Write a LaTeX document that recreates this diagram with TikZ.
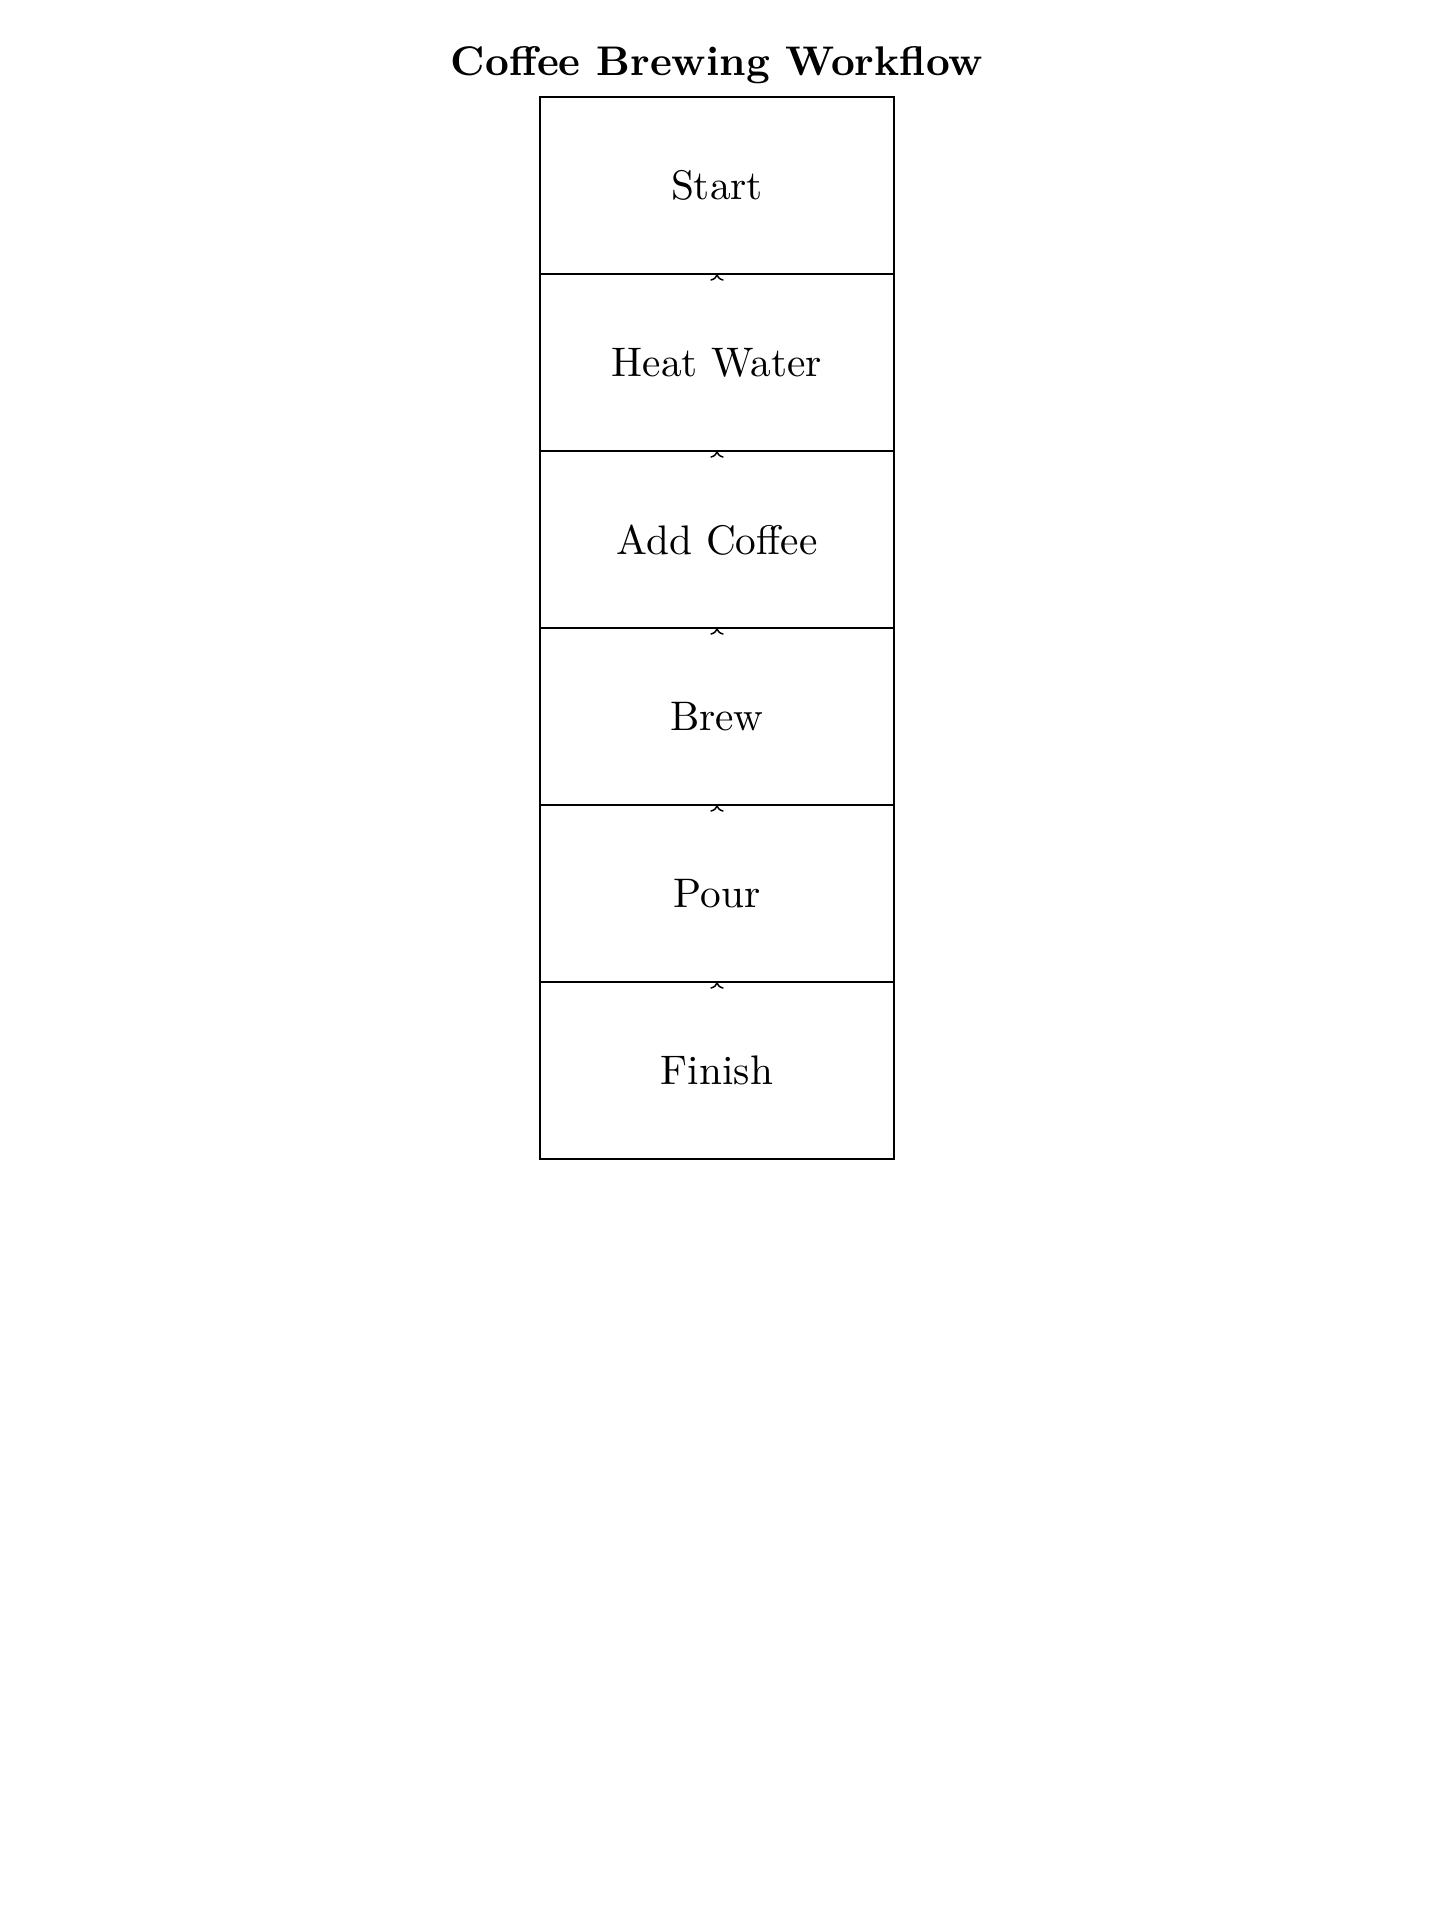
\documentclass[tikz,border=0pt]{standalone}
\usepackage{fontspec}
\setmainfont{lmroman10-regular.otf}[BoldFont=lmroman10-bold.otf]
\usetikzlibrary{arrows.meta}
\tikzset{
  stepbox/.style={draw, thick, minimum width=5cm, minimum height=2.5cm, inner sep=0pt, outer sep=0pt, font=\fontsize{16.6}{20}\selectfont},
  titletext/.style={font=\fontsize{16.65}{20}\selectfont\bfseries, anchor=base, inner sep=0pt},
  flowarrow/.style={line width=0.6pt, -{To[length=2.6pt,width=5.4pt]}}
}
\begin{document}
\begin{tikzpicture}
\useasboundingbox (0,0) rectangle (20.254,-26.935);
\node[titletext] (title) at (10.127,-1.06) {Coffee Brewing Workflow};
\node[stepbox] (start) at (10.127,-2.624) {Start};
\node[stepbox] (heat) at (10.127,-5.124) {Heat Water};
\node[stepbox] (add) at (10.127,-7.624) {Add Coffee};
\node[stepbox] (brew) at (10.127,-10.124) {Brew};
\node[stepbox] (pour) at (10.127,-12.624) {Pour};
\node[stepbox] (finish) at (10.127,-15.124) {Finish};
\draw[flowarrow] ([yshift=-0.1pt]heat.north) -- (start.south);
\draw[flowarrow] ([yshift=-0.1pt]add.north) -- (heat.south);
\draw[flowarrow] ([yshift=-0.1pt]brew.north) -- (add.south);
\draw[flowarrow] ([yshift=-0.1pt]pour.north) -- (brew.south);
\draw[flowarrow] ([yshift=-0.1pt]finish.north) -- (pour.south);
\end{tikzpicture}
\end{document}
